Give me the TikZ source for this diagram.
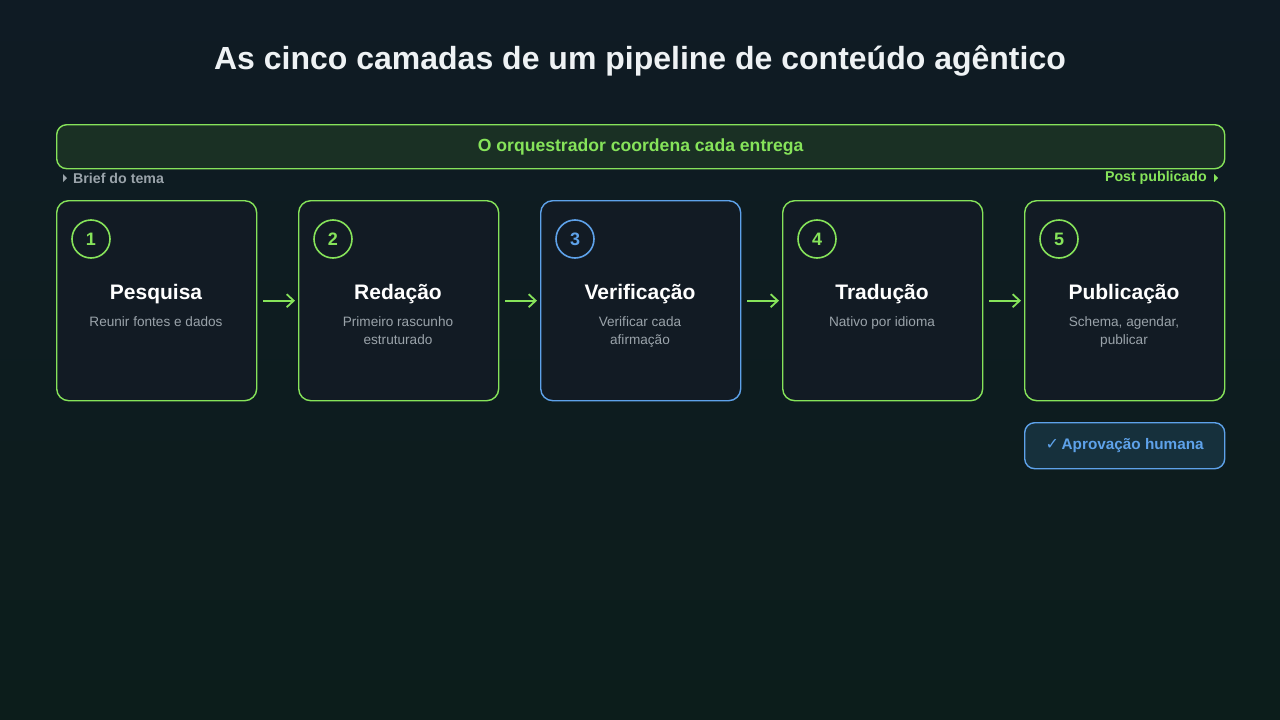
\documentclass[tikz,border=0pt]{standalone}
\usepackage{fontspec}
\setmainfont{Liberation Sans}
\newfontfamily\dejavu{DejaVu Sans}
\usetikzlibrary{arrows.meta}
\definecolor{bgA}{HTML}{0F1B24}
\definecolor{bgB}{HTML}{0C1D1B}
\definecolor{grn}{HTML}{86E35A}
\definecolor{blu}{HTML}{5EA2EA}
\definecolor{boxf}{HTML}{121B24}
\definecolor{barf}{HTML}{1A3024}
\definecolor{apf}{HTML}{16303C}
\definecolor{subt}{HTML}{9AA3AA}
\definecolor{ttl}{HTML}{EEF2F4}
\tikzset{
  stage/.style={draw=#1, line width=1.4pt, fill=boxf, rounded corners=12pt, minimum width=200pt, minimum height=200pt, anchor=north west},
  numc/.style={circle, draw=#1, line width=1.6pt, minimum size=38pt, inner sep=0pt, text=#1, font=\bfseries\fontsize{18}{18}\selectfont},
  stitle/.style={text=white, font=\bfseries\fontsize{21}{22}\selectfont},
  ssub/.style={text=subt, font=\fontsize{13.6}{18}\selectfont, align=center, anchor=north},
  flow/.style={draw=grn, line width=1.8pt, -{Straight Barb[length=7pt,width=13pt,line width=1.8pt]}},
}
\begin{document}
\begin{tikzpicture}[x=1pt,y=-1pt]
\shade[top color=bgA, bottom color=bgB] (0,0) rectangle (1280,720);
\useasboundingbox (0,0) rectangle (1280,720);
\node[text=ttl, font=\bfseries\fontsize{32}{34}\selectfont] (title) at (640,61) {As cinco camadas de um pipeline de conteúdo agêntico};
\node[draw=grn, line width=1.4pt, fill=barf, rounded corners=10pt, minimum width=1168pt, minimum height=44pt, anchor=north west, text=grn, font=\bfseries\fontsize{17.6}{19}\selectfont] (orch) at (56,124) {\raisebox{-1.5pt}{O orquestrador coordena cada entrega}};
\node[anchor=west, text=subt, font=\bfseries\fontsize{14.2}{15}\selectfont, inner sep=0pt] (brief) at (73,178) {Brief do tema};
\fill[subt] (63,174) -- (67,178) -- (63,182) -- cycle;
\node[anchor=east, text=grn, font=\bfseries\fontsize{14.2}{15}\selectfont, inner sep=0pt] (post) at (1207,178) {Post publicado};
\fill[grn] (1214,174) -- (1218,178) -- (1214,182) -- cycle;
\foreach \i/\x/\c/\t/\s in {1/56/grn/Pesquisa/{Reunir fontes e dados},
  2/298/grn/Redação/{Primeiro rascunho\\estruturado},
  3/540/blu/Verificação/{Verificar cada\\afirmação},
  4/782/grn/Tradução/{Nativo por idioma},
  5/1024/grn/Publicação/{Schema, agendar,\\publicar}}{
  \node[stage=\c] (s\i) at (\x,200) {};
  \node[numc=\c] (n\i) at (\x+35,239) {\i};
  \node[stitle] (t\i) at (\x+100,294) {\t};
  \node[ssub] (d\i) at (\x+100,313) {\s};
}
\foreach \a/\b in {1/2,2/3,3/4,4/5}{
  \draw[flow] ([xshift=6pt]s\a.east) -- ([xshift=-3pt]s\b.west);
}
\node[draw=blu, line width=1.4pt, fill=apf, rounded corners=10pt, minimum width=200pt, minimum height=46pt, anchor=north west, text=blu, font=\bfseries\fontsize{15.3}{17}\selectfont] (appr) at (1024,422) {\raisebox{-1.5pt}{{\dejavu\bfseries\fontsize{16}{17}\selectfont ✓}\,Aprovação humana}};
\end{tikzpicture}
\end{document}
